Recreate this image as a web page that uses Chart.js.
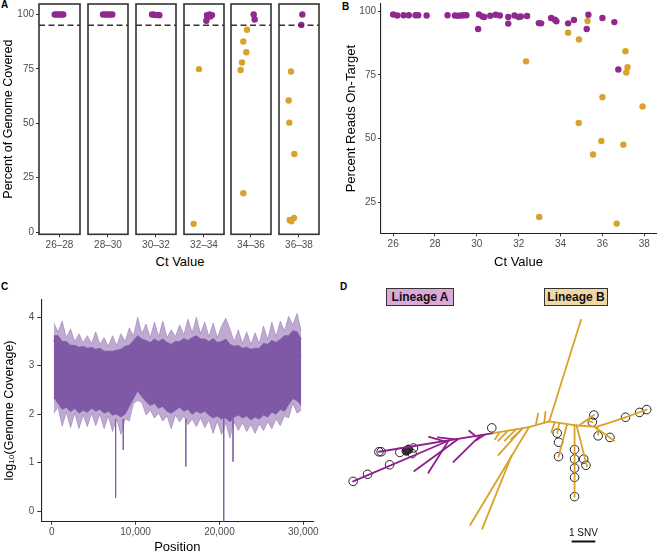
<!DOCTYPE html>
<html>
<head>
<meta charset="utf-8">
<script src="https://cdn.jsdelivr.net/npm/chart.js@4.4.1/dist/chart.umd.min.js"></script>
<style>
  body { margin: 0; background: #fff; }
  #wrap { position: relative; width: 660px; height: 553px; overflow: hidden; font-family: "Liberation Sans", Arial, sans-serif; }
  canvas { position: absolute; }
  .tag { position: absolute; font-weight: bold; font-size: 10px; line-height: 10px; }
  .xt { position: absolute; font-size: 13px; line-height: 14px; transform: translateX(-50%); white-space: nowrap; }
  .lin { position: absolute; height: 16px; line-height: 16px; border: 1px solid #333; font-weight: bold; font-size: 12px; text-align: center; color: #111; }
</style>
</head>
<body>
<div id="wrap">
  <div class="tag" style="left:1px;top:0px">A</div>
  <div class="tag" style="left:342px;top:2px">B</div>
  <div class="tag" style="left:1px;top:282px">C</div>
  <div class="tag" style="left:340px;top:282px">D</div>
  <div class="xt" style="left:180px;top:255px">Ct Value</div>
  <div class="lin" style="left:386px;top:288px;width:66px;background:#DBA9D8">Lineage A</div>
  <div class="lin" style="left:544px;top:288px;width:62px;background:#EFD8A6">Lineage B</div>
</div>
<script>
// ---- panel A: percent of genome covered, faceted by Ct bin ----
const facetLabels = ["26–28", "28–30", "30–32", "32–34", "34–36", "36–38"];
const aPurpleJit = [
  [-0.14, -0.08, -0.02, 0.05, 0.11],
  [-0.15, -0.08, 0.0, 0.06, 0.13],
  [-0.12, -0.06, 0.0, 0.06, 0.10],
  [0.07, 0.11, 0.17, 0.24, 0.19, 0.09],
  [0.08, 0.11],
  [0.10, 0.07],
];
const aPurpleVal = [
  [100, 100, 100, 100, 100],
  [100, 100, 100, 100, 100],
  [100, 99.9, 99.7, 99.8, 99.6],
  [97.1, 98.8, 100, 99.7, 99.1, 99.7],
  [100, 97.7],
  [100, 95.2],
];
const aGoldJit = [
  [],
  [],
  [],
  [-0.15, -0.31],
  [-0.12, -0.23, -0.14, -0.27, -0.31, -0.23],
  [-0.24, -0.31, -0.29, -0.14, -0.28, -0.23, -0.15],
];
const aGoldVal = [
  [],
  [],
  [],
  [74.9, 3.8],
  [93.0, 87.6, 82.6, 77.9, 74.5, 17.9],
  [73.8, 60.5, 50.3, 35.9, 5.6, 5.0, 6.5],
];
const aTicks = [0, 25, 50, 75, 100];
const aCutoff = 95;

// ---- panel B: percent reads on target vs Ct ----
const bPurpleCt = [26.0, 26.2, 26.5, 26.75, 27.07, 27.2, 27.6, 28.6, 28.95, 29.1, 29.25, 29.37, 29.5,
  30.06, 30.1, 30.27, 30.35, 30.64, 30.9, 31.1, 31.5, 31.5, 31.8, 32.0, 32.1, 32.4, 32.96, 33.07,
  33.55, 33.73, 33.8, 34.36, 34.64, 35.25, 35.33, 36.0, 36.57, 36.76];
const bPurplePct = [98.7, 98.3, 98.4, 98.4, 98.4, 98.4, 98.3, 98.4, 98.3, 98.2, 98.3, 98.4, 98.4,
  93.0, 98.7, 97.9, 97.7, 98.2, 98.6, 98.3, 95.1, 97.7, 98.3, 97.7, 97.9, 98.1, 95.3, 95.2,
  97.3, 96.6, 96.0, 95.2, 96.5, 93.0, 98.6, 97.3, 95.7, 77.1];
const bGoldCt = [32.35, 32.98, 34.36, 34.88, 35.29, 34.87, 35.55, 36.0, 35.95, 36.68, 37.1, 37.2, 37.14, 37.0, 37.92];
const bGoldPct = [80.3, 19.2, 91.5, 88.9, 96.1, 56.1, 43.7, 66.2, 49.0, 16.6, 84.3, 78.0, 75.9, 47.6, 62.6];
const bXTicks = [26, 28, 30, 32, 34, 36, 38];
const bYTicks = [25, 50, 75, 100];

// ---- panel C: log10 coverage along the genome ----
const bandPos = [250, 750, 1250, 1750, 2250, 2750, 3250, 3750, 4250, 4750, 5250, 5750, 6250, 6750, 7250,
  7750, 8250, 8750, 9250, 9750, 10250, 10750, 11250, 11750, 12250, 12750, 13250, 13750, 14250, 14750,
  15250, 15750, 16250, 16750, 17250, 17750, 18250, 18750, 19250, 19750, 20250, 20750, 21250, 21750,
  22250, 22750, 23250, 23750, 24250, 24750, 25250, 25750, 26250, 26750, 27250, 27750, 28250, 28750,
  29250, 29750];
const upperOuter = [3.88, 3.70, 3.92, 3.58, 3.76, 3.50, 3.66, 3.48, 3.62, 3.46,
  3.70, 3.44, 3.58, 3.40, 3.62, 3.42, 3.66, 3.50, 3.78, 3.62,
  4.00, 3.66, 3.86, 3.58, 3.90, 3.60, 3.92, 3.58, 3.74, 3.60,
  3.84, 3.64, 3.96, 3.68, 4.00, 3.66, 3.90, 3.60, 3.88, 3.58,
  3.82, 3.98, 3.76, 3.50, 3.74, 3.46, 3.70, 3.44, 3.68, 3.46,
  3.82, 3.54, 3.90, 3.60, 3.92, 3.72, 4.02, 3.84, 4.08, 3.72];
const upperInner = [3.62, 3.62, 3.50, 3.50, 3.42, 3.42, 3.38, 3.40, 3.36, 3.38, 3.34, 3.36, 3.30, 3.30, 3.30,
  3.32, 3.34, 3.40, 3.42, 3.52, 3.62, 3.55, 3.52, 3.48, 3.55, 3.50, 3.55, 3.48, 3.44, 3.50,
  3.50, 3.56, 3.52, 3.58, 3.62, 3.55, 3.55, 3.50, 3.56, 3.48, 3.50, 3.55, 3.44, 3.40, 3.42,
  3.36, 3.38, 3.34, 3.36, 3.36, 3.46, 3.44, 3.52, 3.48, 3.54, 3.62, 3.62, 3.72, 3.70, 3.55];
const lowerInner = [2.35, 2.22, 2.10, 2.14, 2.05, 2.12, 2.02, 2.08, 2.04, 2.12, 2.06, 2.10, 2.02, 2.06, 1.98,
  2.00, 1.94, 2.00, 2.16, 2.32, 2.48, 2.36, 2.26, 2.18, 2.22, 2.12, 2.16, 2.06, 2.02, 2.08,
  2.14, 2.06, 2.10, 2.00, 2.06, 2.02, 2.06, 1.98, 1.92, 1.96, 1.90, 1.92, 1.84, 1.94, 1.98,
  1.92, 1.96, 1.88, 1.94, 1.90, 1.98, 1.94, 2.04, 2.00, 2.10, 2.06, 2.20, 2.32, 2.28, 2.18];
const lowerOuter = [2.02, 2.14, 1.75, 2.04, 1.72, 2.02, 1.70, 1.98, 1.74, 2.02,
  1.76, 2.00, 1.70, 1.96, 1.64, 1.90, 1.58, 1.90, 1.86, 2.22,
  2.28, 2.24, 1.98, 2.08, 1.92, 2.02, 1.86, 1.96, 1.70, 1.98,
  1.84, 1.96, 1.78, 1.90, 1.74, 1.92, 1.72, 1.88, 1.60, 1.86,
  1.58, 1.82, 1.50, 1.84, 1.66, 1.82, 1.64, 1.78, 1.60, 1.80,
  1.66, 1.84, 1.70, 1.90, 1.76, 1.96, 1.92, 2.22, 2.02, 2.08];
const spikePos = [7620, 8530, 15990, 20510, 21620];
const spikeLow = [0.27, 1.26, 0.92, -0.22, 1.02];
const meanPos = [200, 800, 1100, 1400, 1800, 2050, 2300, 2700, 3050, 3800, 4600, 5200, 5600, 6000, 6350,
  6900, 7500, 7900, 8300, 8900, 9500, 10000, 10500, 11100, 11700, 12300, 12800, 13300, 13900, 14500,
  15100, 15700, 16200, 16800, 17300, 17700, 18100, 18700, 19300, 19700, 20100, 20600, 20800, 21100, 21500,
  22000, 22300, 22800, 23400, 23900, 24300, 24800, 25400, 25800, 26200, 26600, 27100, 27600, 28000, 28400,
  28800, 29200, 29700];
const meanVal = [3.50, 3.57, 3.50, 3.19, 3.02, 3.33, 3.22, 3.02, 3.22, 3.18, 3.20, 3.24, 3.09, 3.02, 2.95,
  3.00, 3.12, 2.91, 3.12, 3.33, 3.19, 3.55, 3.26, 3.43, 3.12, 3.29, 3.40, 3.18, 3.26, 2.95,
  3.22, 3.33, 3.15, 3.33, 3.57, 3.40, 3.46, 3.33, 3.15, 3.26, 3.12, 2.71, 3.33, 2.95, 2.74,
  3.19, 3.36, 3.05, 3.33, 2.98, 2.90, 3.12, 3.40, 3.18, 3.33, 2.98, 3.22, 3.43, 3.57, 3.40,
  3.34, 3.53, 3.18];
const cXTicks = [0, 10000, 20000, 30000];
const cYTicks = [0, 1, 2, 3, 4];

// ---- panel D: unrooted tree, branch ends in SNV units ----
const treeGold = [
  [0, 0, 1.43, -4.60], [0, 0, 1.12, 0.17], [1.12, 0.17, 2.13, 0.24], [2.13, 0.24, 3.43, -0.19],
  [3.43, -0.19, 4.38, -0.54], [1.99, 0.22, 2.93, 0.87], [2.17, 0.24, 2.20, 0.60],
  [1.40, 0.14, 2.01, -0.29], [1.75, -0.03, 1.94, 0.03], [1.14, 0.18, 1.14, 3.40],
  [1.23, 0.18, 1.70, 2.03], [0.80, 0.15, 0.42, 1.59], [0.45, 0.06, 0.36, 0.53], [0.25, 0.03, 0.10, 0.48],
  [-0.60, 0.17, -0.50, -0.35], [-0.22, 0.06, -0.17, -0.43], [0, 0, -0.91, 0.26], [-0.91, 0.26, -2.51, 0.53],
  [-1.20, 0.31, -1.71, 0.80], [-1.49, 0.36, -2.00, 0.87], [-1.86, 0.42, -2.29, 0.87], [-2.22, 0.48, -2.43, 0.80],
  [-0.91, 0.26, -3.55, 4.68], [-1.68, 1.52, -3.01, 4.86], [-1.20, 0.31, -2.29, 1.52],
];
const treePurple = [
  [-2.51, 0.53, -7.65, 1.37], [-4.50, 0.86, -8.81, 2.71], [-4.10, 0.80, -6.06, 2.24],
  [-4.53, 0.88, -5.43, 2.32], [-3.09, 0.63, -4.30, 1.83], [-4.20, 0.81, -5.00, 0.72],
  [-4.70, 0.90, -5.40, 0.70], [-3.30, 0.67, -3.60, 0.42], [-2.90, 0.60, -3.30, 0.86],
];
const tipX = [3.43, 4.06, 4.38, 2.73, 2.20, 2.01, 1.94, 1.14, 1.14, 1.14, 1.14, 1.14, 1.55, 1.65, 0.42, 0.42, 0.36, -2.58,
  -7.65, -7.55, -6.71, -6.42, -6.32, -6.10, -6.16, -8.81, -8.16, -7.17];
const tipY = [-0.19, -0.41, -0.54, 0.72, 0.65, -0.29, 0.03, 1.27, 1.70, 2.11, 2.53, 3.40, 1.70, 1.98, 0.94, 1.59, 0.53, 0.29,
  1.37, 1.37, 1.40, 1.33, 1.26, 1.20, 1.45, 2.71, 2.39, 1.96];
const tipFilled = [0, 0, 0, 0, 0, 0, 0, 0, 0, 0, 0, 0, 0, 0, 0, 0, 0, 0,
  0, 0, 0, 1, 1, 0, 0, 0, 0, 0];
const scaleBar = [1.04, 5.43, 2.04, 5.43];

const purple = "#8E2A8E";
const gold = "#D9A22B";
const bandCol = "#7F58A6";
const tickGray = "#4D4D4D";

Chart.defaults.font.family = '"Liberation Sans", Arial, Helvetica, sans-serif';
Chart.defaults.animation = false;
Chart.defaults.responsive = false;
Chart.defaults.plugins.legend.display = false;
Chart.defaults.plugins.tooltip.enabled = false;

const wrap = document.getElementById("wrap");
function addCanvas(left, top, w, h) {
  let c = document.createElement("canvas");
  c.width = w;
  c.height = h;
  c.style.left = left + "px";
  c.style.top = top + "px";
  wrap.appendChild(c);
  return c;
}
let fixTicks = (vals) => (s) => {
  s.ticks = vals.map((v) => ({ value: v }));
};
// set a scale's box size and drop the extra room chart.js keeps for edge labels
let fitTo = (w, h) => (s) => {
  if (w !== null) s.width = w;
  if (h !== null) s.height = h;
  s.paddingTop = 0;
  s.paddingBottom = 0;
  s.paddingLeft = 0;
  s.paddingRight = 0;
};
let tickGrid = { drawOnChartArea: false, tickLength: 3, tickColor: "#333", tickWidth: 1 };

const boxPlugin = {
  id: "box",
  afterDraw(c) {
    let a = c.chartArea;
    let ctx = c.ctx;
    ctx.save();
    ctx.strokeStyle = "#333";
    ctx.lineWidth = 1.6;
    ctx.strokeRect(a.left, a.top, a.right - a.left, a.bottom - a.top);
    ctx.restore();
  },
};

// panel A facets
const facetLeft = [39, 87, 135, 183, 230, 278];
const facetW = 42;
facetLabels.forEach((lab, i) => {
  let first = i === 0;
  let cv = first ? addCanvas(0, 0, facetLeft[0] + facetW + 3, 275) : addCanvas(facetLeft[i] - 3, 0, facetW + 6, 275);
  new Chart(cv, {
    type: "scatter",
    data: {
      datasets: [
        {
          data: [{ x: 0.4, y: aCutoff }, { x: 1.6, y: aCutoff }],
          showLine: true,
          borderColor: "#333",
          borderWidth: 1.5,
          borderDash: [6, 3.5],
          pointRadius: 0,
        },
        {
          data: aPurpleJit[i].map((j, k) => ({ x: 1 + j, y: aPurpleVal[i][k] })),
          backgroundColor: purple,
          borderWidth: 0,
          pointRadius: 3.2,
        },
        {
          data: aGoldJit[i].map((j, k) => ({ x: 1 + j, y: aGoldVal[i][k] })),
          backgroundColor: gold,
          borderWidth: 0,
          pointRadius: 3.2,
        },
      ],
    },
    options: {
      layout: { padding: { top: 1.7, left: first ? 0 : 3, right: 3, bottom: 0 } },
      scales: {
        x: {
          type: "linear",
          min: 0.4,
          max: 1.6,
          afterBuildTicks: fixTicks([1]),
          afterFit: fitTo(null, 275 - 234.3),
          ticks: { callback: () => lab, color: tickGray, font: { size: 10 }, padding: 2, maxRotation: 0 },
          grid: tickGrid,
          border: { display: false },
        },
        y: {
          display: first,
          min: -1,
          max: 104.8,
          afterBuildTicks: fixTicks(aTicks),
          afterFit: fitTo(first ? facetLeft[0] : 0, null),
          ticks: { color: tickGray, font: { size: 10 }, padding: 2 },
          grid: tickGrid,
          border: { display: false },
          title: { display: true, text: "Percent of Genome Covered", color: "#000", font: { size: 12.5 }, padding: { top: 1, bottom: 0 } },
        },
      },
    },
    plugins: [boxPlugin],
  });
});

// panel B
new Chart(addCanvas(330, 0, 330, 275), {
  type: "scatter",
  data: {
    datasets: [
      { data: bPurpleCt.map((c, k) => ({ x: c, y: bPurplePct[k] })), backgroundColor: purple, borderWidth: 0, pointRadius: 3.2 },
      { data: bGoldCt.map((c, k) => ({ x: c, y: bGoldPct[k] })), backgroundColor: gold, borderWidth: 0, pointRadius: 3.2 },
    ],
  },
  options: {
    layout: { padding: { top: 1.7, right: 0, left: 0, bottom: 0 } },
    scales: {
      x: {
        min: 25.42,
        max: 38.56,
        afterBuildTicks: fixTicks(bXTicks),
        afterFit: fitTo(null, 275 - 233.3),
        ticks: { color: tickGray, font: { size: 10 }, padding: 2 },
        grid: tickGrid,
        border: { display: true, color: "#222", width: 1.1 },
        title: { display: true, text: "Ct Value", color: "#000", font: { size: 13 }, padding: { top: 0, bottom: 5 } },
      },
      y: {
        min: 12.8,
        max: 102.8,
        afterBuildTicks: fixTicks(bYTicks),
        afterFit: fitTo(51, null),
        ticks: { color: tickGray, font: { size: 10 }, padding: 2 },
        grid: tickGrid,
        border: { display: true, color: "#222", width: 1.1 },
        title: { display: true, text: "Percent Reads On-Target", color: "#000", font: { size: 13 }, padding: { top: 14, bottom: 0 } },
      },
    },
  },
});

// panel C
let pts = (xs, ys) => xs.map((x, k) => ({ x: x, y: ys[k] }));
let bandLine = { pointRadius: 0, borderWidth: 0.8, tension: 0 };
let cSets = [
  { ...bandLine, data: pts(bandPos, lowerOuter), borderColor: "rgba(127,88,166,0.5)", fill: false },
  { ...bandLine, data: pts(bandPos, upperOuter), borderColor: "rgba(127,88,166,0.5)", backgroundColor: "rgba(127,88,166,0.5)", fill: "-1" },
  { ...bandLine, data: pts(bandPos, lowerInner), borderColor: bandCol, fill: false },
  { ...bandLine, data: pts(bandPos, upperInner), borderColor: bandCol, backgroundColor: bandCol, fill: "-1" },
];
spikePos.forEach((p, k) => {
  cSets.push({ data: [{ x: p, y: 1.9 }, { x: p, y: spikeLow[k] }], borderColor: "rgba(127,88,166,0.8)", borderWidth: 1, pointRadius: 0, fill: false });
});
cSets.push({ data: pts(meanPos, meanVal), borderColor: "#F2A91B", borderWidth: 1.5, pointRadius: 0, tension: 0.15, fill: false });

new Chart(addCanvas(0, 280, 330, 275), {
  type: "line",
  data: { datasets: cSets },
  options: {
    layout: { padding: { top: 19.3, right: 16.7, left: 0, bottom: 0 } },
    scales: {
      x: {
        type: "linear",
        min: -1240,
        max: 31190,
        afterBuildTicks: fixTicks(cXTicks),
        afterFit: fitTo(null, 275 - 241.7),
        ticks: { color: tickGray, font: { size: 10 }, padding: 2, callback: (v) => v.toLocaleString("en-US") },
        grid: tickGrid,
        border: { display: true, color: "#222", width: 1.1 },
        title: { display: true, text: "Position", color: "#000", font: { size: 13 }, padding: { top: 0, bottom: 0 } },
      },
      y: {
        min: -0.22,
        max: 4.37,
        afterBuildTicks: fixTicks(cYTicks),
        afterFit: fitTo(41.3, null),
        ticks: { color: tickGray, font: { size: 10 }, padding: 3 },
        grid: { ...tickGrid, tickLength: 4 },
        border: { display: true, color: "#222", width: 1.1 },
        title: { display: true, text: "log₁₀(Genome Coverage)", color: "#000", font: { size: 12.5 }, padding: { top: 2, bottom: 0 } },
      },
    },
  },
});

// panel D
let branch = (b, col) => ({
  data: [{ x: b[0], y: b[1] }, { x: b[2], y: b[3] }],
  borderColor: col,
  borderWidth: 1.8,
  borderCapStyle: "round",
  pointRadius: 0,
  fill: false,
});
let dSets = treeGold.map((b) => branch(b, gold)).concat(treePurple.map((b) => branch(b, "#8E1F8C")));
dSets.push({
  data: pts(tipX, tipY),
  showLine: false,
  pointRadius: 4.3,
  pointBorderColor: "#222",
  pointBorderWidth: 1,
  pointBackgroundColor: tipFilled.map((f) => (f ? "#333" : "rgba(0,0,0,0)")),
});
dSets.push(branch(scaleBar, "#111"));

const snvLabel = {
  id: "snv",
  afterDraw(c) {
    let ctx = c.ctx;
    ctx.save();
    ctx.fillStyle = "#111";
    ctx.font = '10px "Liberation Sans", Arial, sans-serif';
    ctx.textAlign = "center";
    ctx.textBaseline = "middle";
    ctx.fillText("1 SNV", c.scales.x.getPixelForValue((scaleBar[0] + scaleBar[2]) / 2), c.scales.y.getPixelForValue(scaleBar[1] - 0.36));
    ctx.restore();
  },
};

new Chart(addCanvas(330, 280, 330, 273), {
  type: "line",
  data: { datasets: dSets },
  options: {
    layout: { padding: 0 },
    scales: {
      x: { type: "linear", display: false, min: -9.61, max: 4.74 },
      y: { type: "linear", display: false, min: -6.16, max: 5.71, reverse: true },
    },
  },
  plugins: [snvLabel],
});
</script>
</body>
</html>
